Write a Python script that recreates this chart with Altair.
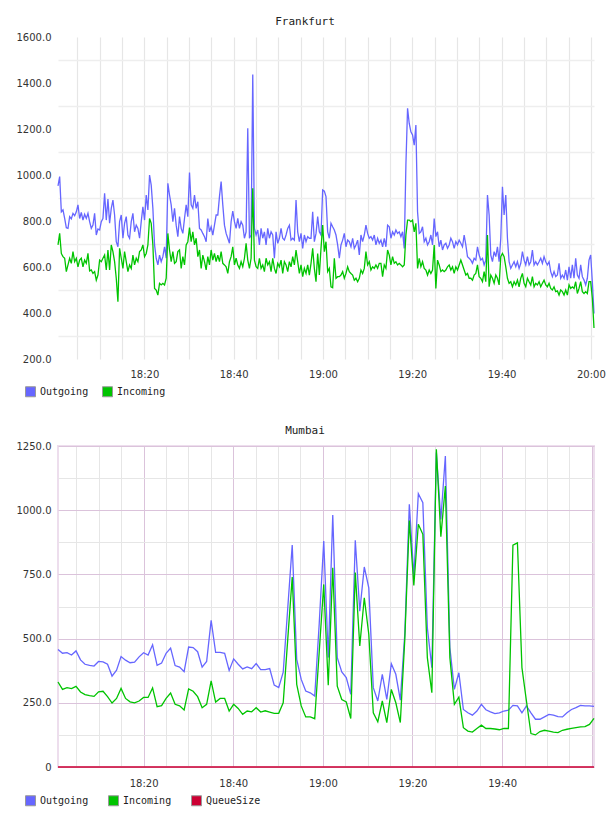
import altair as alt
import pandas as pd

# ---------------------------------------------------------------
# Frankfurt: outgoing / incoming traffic, evenly sampled
# times are minutes after midnight (18:00:40 .. 20:00:42)
# ---------------------------------------------------------------
FRA_START = 18 * 60 + 40 / 60
FRA_END = 20 * 60 + 42 / 60

fra_outgoing = [
    953, 993, 840, 848, 811, 771, 768, 819, 809, 833,
    823, 840, 870, 811, 837, 804, 829, 811, 833, 797,
    768, 782, 833, 739, 765, 761, 797, 811, 920, 804,
    895, 790, 855, 891, 826, 710, 688, 797, 826, 725,
    790, 819, 739, 725, 797, 833, 753, 782, 768, 725,
    797, 862, 804, 913, 848, 1000, 956, 855, 696, 638,
    609, 652, 623, 645, 688, 638, 964, 913, 870, 797,
    855, 782, 732, 819, 768, 746, 811, 870, 819, 1011,
    870, 855, 913, 855, 884, 768, 761, 746, 732, 710,
    811, 753, 775, 739, 782, 826, 826, 906, 971, 870,
    782, 746, 725, 703, 797, 843, 797, 768, 811, 768,
    797, 782, 725, 753, 1203, 725, 739, 1437, 768, 739,
    761, 696, 768, 725, 753, 696, 768, 725, 753, 739,
    638, 753, 703, 725, 768, 725, 717, 739, 768, 782,
    717, 725, 717, 891, 753, 710, 746, 681, 739, 710,
    732, 725, 725, 840, 710, 746, 819, 753, 739, 935,
    930, 906,
    753, 725, 790, 775, 761, 739, 696, 638, 696, 717,
    746, 688, 717, 710, 688, 725, 681, 696, 717, 652,
    739, 710, 739, 782, 746, 725, 732, 717, 739, 696,
    725, 703, 717, 688, 725, 688, 782, 775, 725, 753,
    739, 761, 746, 753, 732, 753, 681,
    1043, 1290, 1224, 1188, 1174, 1130, 1217, 840, 746, 753, 775,
    710, 725, 696, 710, 739, 696, 811, 732, 753, 688,
    717, 674, 696, 703, 681, 696, 725, 710, 681, 710,
    696, 717, 703, 688, 739, 696, 645, 638, 630, 616,
    638, 630, 688, 652, 630, 638, 609, 630, 913, 826,
    652, 623, 667, 645, 688, 623, 725, 949, 826, 913,
    725, 623, 594, 609, 623, 601, 623, 594, 616, 667,
    630, 609, 645, 609, 623, 674, 609, 623, 609, 623,
    638, 616, 645, 623, 609, 623, 580, 558, 580, 558,
    565, 616, 551, 565, 551, 587, 543, 601, 551, 609,
    551, 638, 565, 551, 609, 558, 543, 522, 551, 630,
    652, 536, 398,
]

fra_incoming = [
    696, 746, 659, 645, 638, 580, 609, 638, 616, 667,
    623, 638, 601, 630, 638, 601, 630, 616, 659, 583,
    587, 572, 580, 543, 565, 630, 623, 638, 652, 587,
    674, 587, 696, 667, 623, 551, 449, 681, 638, 594,
    667, 623, 580, 609, 594, 652, 609, 638, 623, 667,
    674, 696, 645, 659, 696, 811, 790, 696, 507, 500,
    478, 529, 522, 529, 522, 551, 746, 674, 623, 667,
    616, 623, 667, 674, 594, 645, 609, 696, 710, 771,
    710, 753, 696, 725, 645, 674, 594, 652, 623, 587,
    645, 609, 674, 630, 659, 623, 652, 623, 667, 616,
    609, 601, 572, 623, 645, 688, 609, 638, 609, 594,
    623, 601, 638, 703, 630, 594, 638, 942, 630, 601,
    594, 638, 594, 609, 580, 638, 609, 623, 580, 638,
    594, 572, 616, 601, 630, 572, 623, 609, 580, 623,
    601, 645, 609, 674, 623, 572, 609, 558, 594, 572,
    609, 565, 616, 681, 594, 536, 659, 565, 681, 782,
    667, 710,
    580, 594, 514, 510, 638, 551, 558, 558, 565, 580,
    551, 572, 601, 580, 572, 565, 543, 551, 536, 551,
    587, 572, 594, 667, 609, 623, 587, 601, 594, 609,
    594, 616, 616, 558, 609, 594, 674, 652, 609, 645,
    616, 623, 609, 616, 609, 601, 609,
    739, 804, 804, 797, 804, 753, 790, 594, 638, 601, 623,
    594, 587, 565, 587, 572, 587, 696, 507, 630, 609,
    580, 587, 580, 587, 601, 609, 587, 601, 572, 601,
    587, 609, 630, 609, 587, 565, 572, 551, 551, 543,
    565, 572, 609, 558, 551, 536, 580, 536, 739, 514,
    565, 551, 529, 565, 551, 522, 645, 659, 645, 601,
    551, 529, 536, 514, 536, 522, 543, 514, 551, 572,
    529, 514, 551, 536, 522, 558, 514, 529, 522, 536,
    514, 529, 543, 522, 514, 529, 507, 500, 514, 493,
    496, 478, 500, 493, 478, 500, 478, 522, 507, 514,
    507, 536, 485, 507, 536, 493, 485, 493, 485, 536,
    536, 464, 335,
]

# ---------------------------------------------------------------
# Mumbai: one sample per minute (18:00:54 .. 20:00:30)
# ---------------------------------------------------------------
MUM_START = 18 * 60 + 54 / 60
MUM_END = 20 * 60 + 30 / 60

mum_outgoing = [
    458, 443, 445, 436, 452, 417, 400, 396, 393, 411,
    409, 400, 354, 377, 430, 416, 406, 408, 429, 445,
    436, 476, 396, 405, 443, 463, 395, 389, 371, 467,
    465, 449, 389, 411, 571, 446, 446, 443, 376, 421,
    400, 382, 390, 383, 403, 379, 379, 383, 319, 309,
    369, 616, 864, 419, 341, 296, 289, 276, 560,
    880, 426, 981, 426, 370, 348, 283, 883, 607, 779,
    698, 309, 257, 361, 263, 402, 361, 260, 520, 1023,
    744, 1064, 1029, 542, 387, 1225, 964, 1211, 465, 302,
    367, 224, 211, 202, 218, 244, 223, 215, 208, 211,
    218, 221, 240, 238, 211, 238, 211, 186, 186, 195,
    205, 202, 196, 195, 211, 224, 231, 240, 238, 238,
    236,
]

mum_incoming = [
    331, 302, 309, 305, 314, 292, 282, 278, 275, 293,
    295, 274, 249, 267, 306, 267, 254, 250, 257, 271,
    271, 308, 235, 239, 267, 288, 244, 238, 222, 304,
    295, 274, 231, 244, 335, 253, 267, 267, 218, 244,
    228, 205, 218, 215, 231, 214, 219, 214, 209, 209,
    250, 495, 740, 322, 238, 195, 195, 188, 450,
    711, 318, 776, 315, 263, 253, 189, 757, 471, 659,
    517, 211, 176, 257, 173, 302, 250, 173, 500, 960,
    707, 945, 906, 426, 289, 1237, 897, 1094, 426, 244,
    272, 153, 140, 136, 150, 163, 150, 150, 148, 145,
    150, 150, 864, 873, 387, 257, 130, 125, 138, 143,
    140, 136, 134, 143, 147, 150, 153, 156, 157, 166,
    189,
]

mum_queue = [0] * len(mum_outgoing)

SERIES_COLORS = {"Outgoing": "#6666ff", "Incoming": "#00c400", "QueueSize": "#cc0033"}

LABEL_FONT = "DejaVu Sans"
MONO_FONT = "DejaVu Sans Mono"
TIME_LABEL = "format(floor(datum.value / 60), 'd') + ':' + format(datum.value % 60, '02d')"


def to_frame(series, start, end):
    rows = []
    for name, vals in series:
        step = (end - start) / (len(vals) - 1)
        for i, v in enumerate(vals):
            rows.append({"minute": start + i * step, "value": v, "series": name})
    return pd.DataFrame(rows)


def panel(title, df, names, x_dom, y_dom, x_axis, y_axis, legend_pad, view, height):
    colors = [SERIES_COLORS[n] for n in names]
    x = alt.X("minute:Q", scale=alt.Scale(domain=x_dom, nice=False, zero=False), axis=x_axis)
    y = alt.Y("value:Q", scale=alt.Scale(domain=y_dom, nice=False, zero=False), axis=y_axis)
    # one line layer per series, drawn in legend order
    layers = [
        alt.Chart(df)
        .transform_filter(alt.datum.series == n)
        .mark_line(color=SERIES_COLORS[n], strokeWidth=1.3)
        .encode(x=x, y=y)
        for n in names
    ]
    # invisible squares that carry the legend (filled swatches with a grey rim)
    key = (
        alt.Chart(df)
        .mark_square(opacity=0, size=1)
        .encode(
            x=x,
            y=y,
            fill=alt.Fill(
                "series:N",
                scale=alt.Scale(domain=names, range=colors),
                legend=alt.Legend(
                    title=None,
                    orient="none",
                    legendX=-33,
                    legendY=349,
                    direction="horizontal",
                    padding=0,
                    symbolType="square",
                    symbolSize=100,
                    symbolOpacity=1,
                    symbolStrokeColor="#999999",
                    symbolStrokeWidth=1,
                    labelFont=MONO_FONT,
                    labelFontSize=10,
                    labelColor="#222222",
                    labelOffset=4,
                    columnPadding=legend_pad,
                ),
            ),
        )
    )
    return alt.layer(*layers, key).properties(
        width=536,
        height=height,
        view=view,
        title=alt.TitleParams(
            text=title,
            font=MONO_FONT,
            fontSize=11,
            fontWeight="normal",
            color="#222222",
            anchor="middle",
            dx=-21,
            offset=5,
        ),
    )


x_ticks = list(range(1085, 1201, 5))

fra_x_axis = alt.Axis(
    values=x_ticks,
    labelExpr=f"datum.value % 20 == 0 ? {TIME_LABEL} : ''",
    grid=True,
    gridColor="#e6e6e6",
    gridWidth=1.2,
    domain=False,
    ticks=False,
    labelPadding=10,
    labelFlush=False,
    labelOverlap=False,
    labelFont=LABEL_FONT,
    labelFontSize=10,
    labelColor="#333333",
    title=None,
)
fra_y_axis = alt.Axis(
    values=list(range(200, 1601, 100)),
    labelExpr="datum.value % 200 == 0 ? format(datum.value, '.1f') : ''",
    grid=True,
    gridColor="#eeeeee",
    gridWidth=1.6,
    gridOpacity={"condition": {"test": "datum.value % 200 == 0", "value": 0}, "value": 1},
    domain=False,
    ticks=False,
    labelPadding=7,
    labelOverlap=False,
    minExtent=43,
    maxExtent=43,
    labelFont=LABEL_FONT,
    labelFontSize=10,
    labelColor="#333333",
    title=None,
)

mum_x_axis = alt.Axis(
    values=x_ticks,
    labelExpr=f"datum.value % 20 == 0 && datum.value < 1200 ? {TIME_LABEL} : ''",
    grid=True,
    gridColor={"condition": {"test": "datum.value % 20 == 0", "value": "#dbc3db"}, "value": "#e6e6e6"},
    gridWidth=1,
    domain=False,
    ticks=False,
    labelPadding=11,
    labelFlush=False,
    labelOverlap=False,
    labelFont=LABEL_FONT,
    labelFontSize=10,
    labelColor="#333333",
    title=None,
)
mum_y_axis = alt.Axis(
    values=list(range(0, 1251, 125)),
    labelExpr="datum.value == 0 ? '0' : datum.value % 250 == 0 ? format(datum.value, '.1f') : ''",
    grid=True,
    gridColor={"condition": {"test": "datum.value % 250 == 0", "value": "#dbc3db"}, "value": "#e6e6e6"},
    gridWidth=1,
    domain=False,
    ticks=False,
    labelPadding=7,
    labelOverlap=False,
    minExtent=43,
    maxExtent=43,
    labelFont=LABEL_FONT,
    labelFontSize=10,
    labelColor="#333333",
    title=None,
)

fra_df = to_frame(
    [("Outgoing", fra_outgoing), ("Incoming", fra_incoming)], FRA_START, FRA_END
)
mum_df = to_frame(
    [("Outgoing", mum_outgoing), ("Incoming", mum_incoming), ("QueueSize", mum_queue)],
    MUM_START,
    MUM_END,
)

frankfurt = panel(
    "Frankfurt", fra_df, ["Outgoing", "Incoming"], [FRA_START, FRA_END], [200, 1600],
    fra_x_axis, fra_y_axis, 11, alt.ViewBackground(stroke="transparent"), 322,
)
mumbai = panel(
    "Mumbai", mum_df, ["Outgoing", "Incoming", "QueueSize"], [MUM_START, MUM_END], [0, 1250],
    mum_x_axis, mum_y_axis, 17, alt.ViewBackground(stroke="#eddeed", strokeWidth=2), 321,
)

chart = (
    alt.vconcat(frankfurt, mumbai, spacing=24)
    .resolve_scale(fill="independent")
    .resolve_legend(fill="independent")
    .properties(padding={"left": 14, "top": 15, "right": 0, "bottom": 0})
    .configure(background="white")
)

chart.save("out.html", embed_options={"renderer": "svg", "actions": False})
